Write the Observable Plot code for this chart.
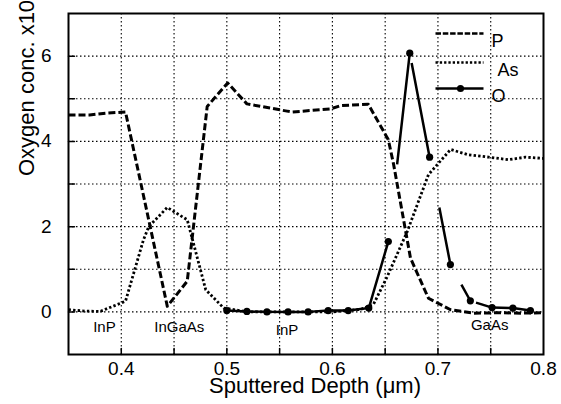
<!DOCTYPE html>
<html>
<head>
<meta charset="utf-8">
<script src="https://cdn.jsdelivr.net/npm/d3@7"></script>
<script src="https://cdn.jsdelivr.net/npm/@observablehq/plot@0.6"></script>
<style>
  html, body { margin: 0; padding: 0; background: #fff; }
  #chart svg { display: block; font-family: "Liberation Sans", Arial, sans-serif; }
</style>
</head>
<body>
<div id="chart"></div>
<script>
// ---- data ----
const pDepth = [0.35, 0.37, 0.385, 0.404, 0.4436, 0.4625, 0.4814, 0.5008, 0.519, 0.557, 0.562, 0.598, 0.608, 0.634, 0.653, 0.658, 0.674, 0.691, 0.712, 0.734, 0.76, 0.78, 0.8];
const pConc  = [4.62, 4.62, 4.66, 4.69, 0.13, 0.72, 4.82, 5.37, 4.88, 4.71, 4.69, 4.76, 4.84, 4.87, 4.04, 3.46, 1.26, 0.32, 0.05, -0.03, -0.02, -0.03, -0.02];

const asDepth = [0.35, 0.365, 0.38, 0.404, 0.421, 0.426, 0.4436, 0.4625, 0.48, 0.497, 0.52, 0.56, 0.6, 0.627, 0.639, 0.652, 0.671, 0.691, 0.712, 0.728, 0.748, 0.767, 0.783, 0.8];
const asConc  = [0.05, 0.02, 0.01, 0.25, 1.69, 2.0, 2.45, 2.16, 0.52, 0.09, 0.0, 0.0, 0.0, 0.06, 0.18, 0.83, 1.89, 3.22, 3.81, 3.69, 3.63, 3.57, 3.63, 3.6];

const oDepth = [0.5, 0.519, 0.538, 0.558, 0.577, 0.596, 0.615, 0.6345, 0.653, 0.6733, 0.6921, 0.7118, 0.7307, 0.7513, 0.771, 0.7876];
const oConc  = [0.03, 0.01, 0, 0, 0, 0.03, 0.03, 0.09, 1.65, 6.07, 3.63, 1.11, 0.26, 0.1, 0.09, 0.03];

const layerNames = ["InP", "InGaAs", "InP", "GaAs"];
const layerDepth = [0.384, 0.455, 0.557, 0.749];
const layerConc  = [-0.36, -0.36, -0.42, -0.31];

const xGrid = [0.4, 0.45, 0.5, 0.55, 0.6, 0.65, 0.7, 0.75];
const yGrid = [0, 1, 2, 3, 4, 5, 6];
const xTickLabels = [0.4, 0.5, 0.6, 0.7, 0.8];
const yTickLabels = [0, 2, 4, 6];

const seriesNames = ["P", "As", "O"];
const xTitle = "Sputtered Depth (\u03bcm)";
const yTitle = "Oxygen conc. x10\u00b9\u2079(cm\u207b\u00b3)";

// ---- build tables ----
const P = pDepth.map((x, i) => ({x, y: pConc[i]}));
const AS = asDepth.map((x, i) => ({x, y: asConc[i]}));
const O = oDepth.map((x, i) => ({x, y: oConc[i]}));
const layers = layerNames.map((t, i) => ({t, x: layerDepth[i], y: layerConc[i]}));

const tickShape = {draw(context, l) { context.moveTo(0, 0); context.lineTo(0, -l); }};

// legend marks, placed relative to the top-right corner of the frame
const legDy = [20, 49, 75];
const legDash = ["5.5 1.8", "2.3 2", null];
const legTextDx = [-52, -46, -52];
const legendMarks = seriesNames.flatMap((name, i) => {
  const m = [
    Plot.vector([name], {frameAnchor: "top-right", dx: -108, dy: legDy[i], rotate: 90, length: 48, anchor: "start",
      shape: tickShape, stroke: "#000", strokeWidth: 2.6, strokeLinecap: "butt",
      ...(legDash[i] ? {strokeDasharray: legDash[i]} : {})}),
    Plot.text([name], {frameAnchor: "top-right", dx: legTextDx[i], dy: legDy[i] + 1, text: d => d,
      textAnchor: "start", fontSize: 18, fill: "#000"})
  ];
  if (name === "O") m.push(Plot.dot([name], {frameAnchor: "top-right", dx: -83, dy: legDy[i], r: 3.6, fill: "#000", stroke: "none"}));
  return m;
});

const chart = Plot.plot({
  width: 561,
  height: 404,
  marginLeft: 68,
  marginRight: 18,
  marginTop: 13,
  marginBottom: 50,
  style: {background: "#fff", fontFamily: "Liberation Sans, Arial, sans-serif", color: "#000"},
  x: {domain: [0.35, 0.8], label: null},
  y: {domain: [-1, 7], label: null},
  marks: [
    Plot.ruleX(xGrid, {x: d => d, stroke: "#000", strokeWidth: 1.1, strokeDasharray: "1.5 2.5", strokeLinecap: "butt"}),
    Plot.ruleY(yGrid, {y: d => d, stroke: "#000", strokeWidth: 1.1, strokeDasharray: "1.5 2.5", strokeLinecap: "butt"}),
    Plot.vector(xGrid, {x: d => d, frameAnchor: "bottom", rotate: 0, length: 6, anchor: "start", shape: tickShape, stroke: "#000", strokeWidth: 1.5}),
    Plot.vector(yGrid, {y: d => d, frameAnchor: "left", rotate: 90, length: 6, anchor: "start", shape: tickShape, stroke: "#000", strokeWidth: 1.5}),
    Plot.axisX({ticks: xTickLabels, tickSize: 0, tickPadding: 7, fontSize: 19, tickFormat: d3.format(".1f"), label: null}),
    Plot.axisY({ticks: yTickLabels, tickSize: 0, tickPadding: 17, fontSize: 19, tickFormat: d3.format("d"), label: null}),
    Plot.line(AS, {x: "x", y: "y", stroke: "#000", strokeWidth: 2.8, strokeDasharray: "2.4 2.2", strokeLinecap: "butt"}),
    Plot.line(P, {x: "x", y: "y", stroke: "#000", strokeWidth: 3, strokeDasharray: "7 3", strokeLinecap: "butt"}),
    Plot.line(O, {x: "x", y: "y", stroke: "#000", strokeWidth: 2.5, strokeLinecap: "butt",
      strokeDasharray: "211.5 77.7 111.9 10 95.9 51.2 58.2 22.8 18.5 6 600"}),
    Plot.dot(O, {x: "x", y: "y", r: 3.6, fill: "#000", stroke: "none"}),
    Plot.text(layers, {x: "x", y: "y", text: "t", fontSize: 15, fill: "#000"}),
    Plot.text([xTitle], {frameAnchor: "bottom", dx: 9, dy: 38, text: d => d, fontSize: 22, fill: "#000"}),
    Plot.text([yTitle], {frameAnchor: "left", rotate: -90, dx: -42, dy: -8, text: d => d, fontSize: 22, fill: "#000"}),
    ...legendMarks,
    Plot.frame({stroke: "#000", strokeWidth: 2})
  ]
});

document.getElementById("chart").appendChild(chart);
</script>
</body>
</html>
